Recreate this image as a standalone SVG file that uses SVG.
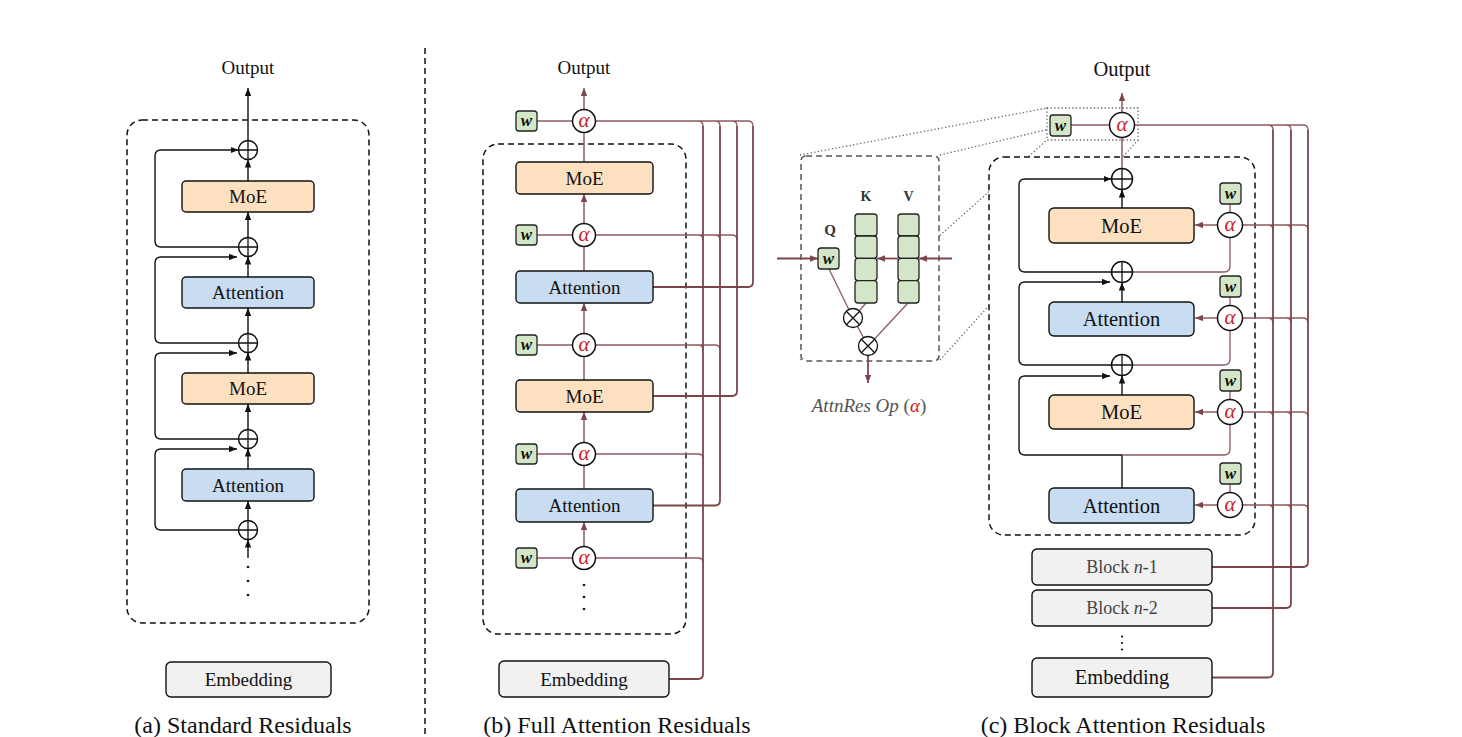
<svg xmlns="http://www.w3.org/2000/svg" width="1462" height="737" viewBox="0 0 1462 737">
<style>
text{font-family:'Liberation Serif','Times New Roman',serif;fill:#111}
.lbl{font-size:19px;text-anchor:middle}
.lblc{font-size:20.5px;text-anchor:middle}
.cap{font-size:24px;text-anchor:middle}
.box{stroke:#111;stroke-width:1.4}
.moe{fill:#fde0c0}
.attn{fill:#c8dcf2}
.emb{fill:#f1f1f1}
.wb{fill:#d4e6c8;stroke:#222;stroke-width:1.3}
.circ{fill:#fff;stroke:#111;stroke-width:1.5}
.pl{stroke:#111;stroke-width:1.3;fill:none}
.blk{stroke:#111;stroke-width:1.4;fill:none}
.mar{stroke:#7a464c;stroke-width:1.8;fill:none}
.marl{stroke:#8e5a60;stroke-width:1.3;fill:none}
.marv{stroke:#84505a;stroke-width:1.4;fill:none}
.dash{stroke:#111;stroke-width:1.5;stroke-dasharray:6 4;fill:none}
.dot{stroke:#666;stroke-width:1.3;stroke-dasharray:1.3 2.3;fill:none}
.al{font-size:21px;font-style:italic;fill:#cc2020;text-anchor:middle}
.w{font-size:17px;font-style:italic;font-weight:bold;text-anchor:middle}
.qkv{font-size:14px;font-weight:bold;text-anchor:middle;fill:#333}
</style>
<defs>
<marker id="ab" viewBox="0 0 10 8" refX="10" refY="4" markerWidth="8" markerHeight="6.4" markerUnits="userSpaceOnUse" orient="auto"><path d="M0,0 L10,4 L0,8 z" fill="#111"/></marker>
<marker id="am" viewBox="0 0 10 8" refX="10" refY="4" markerWidth="8" markerHeight="6.4" markerUnits="userSpaceOnUse" orient="auto"><path d="M0,0 L10,4 L0,8 z" fill="#7a464c"/></marker>
</defs>

<!-- separator -->
<line x1="425" y1="48" x2="425" y2="737" class="dash"/>

<!-- zoom dotted lines -->
<g id="zoom-lines">
<line x1="800" y1="155" x2="1047" y2="108" class="dot"/>
<line x1="940" y1="155" x2="1138" y2="108" class="dot"/>
<line x1="800" y1="360" x2="1047" y2="140" class="dot"/>
<line x1="940" y1="360" x2="1138" y2="140" class="dot"/>
</g>

<!-- containers -->
<g id="containers">
<rect x="127" y="120" width="242" height="503" rx="15" class="dash"/>
<rect x="483" y="144" width="203" height="490" rx="15" class="dash"/>
<rect x="989" y="157" width="266" height="378" rx="15" class="dash" style="fill:#fff"/>
<rect x="801" y="156" width="138" height="205" rx="5" class="dash" style="fill:#fff;stroke:#555"/>
<rect x="1047" y="108" width="91" height="32" class="dot" style="fill:#fff"/>
</g>

<g id="connectors">
<!-- (a) -->
<path d="M248,558 V539.5" class="blk" marker-end="url(#ab)"/>
<path d="M248,520.5 V501" class="blk" marker-end="url(#ab)"/>
<path d="M248,469 V448.5" class="blk" marker-end="url(#ab)"/>
<path d="M248,429.5 V404" class="blk" marker-end="url(#ab)"/>
<path d="M248,373 V352.5" class="blk" marker-end="url(#ab)"/>
<path d="M248,333.5 V308" class="blk" marker-end="url(#ab)"/>
<path d="M248,277 V256.5" class="blk" marker-end="url(#ab)"/>
<path d="M248,237.5 V212" class="blk" marker-end="url(#ab)"/>
<path d="M248,181 V159.5" class="blk" marker-end="url(#ab)"/>
<path d="M248,140.5 V88" class="blk" marker-end="url(#ab)"/>
<path d="M238.5,530 H161 Q155,530 155,524 V455 Q155,449 161,449 H237" class="blk" marker-end="url(#ab)"/>
<path d="M238.5,439 H161 Q155,439 155,433 V359 Q155,353 161,353 H237" class="blk" marker-end="url(#ab)"/>
<path d="M238.5,343 H161 Q155,343 155,337 V263 Q155,257 161,257 H237" class="blk" marker-end="url(#ab)"/>
<path d="M238.5,247 H161 Q155,247 155,241 V156 Q155,150 161,150 H238.5" class="blk" marker-end="url(#ab)"/>

<!-- (b) vertical chain -->
<path d="M584,546.5 V522" class="marv" marker-end="url(#am)"/>
<path d="M584,489 V465.5" class="marv"/>
<path d="M584,442.5 V412" class="marv" marker-end="url(#am)"/>
<path d="M584,380 V356.5" class="marv"/>
<path d="M584,333.5 V303" class="marv" marker-end="url(#am)"/>
<path d="M584,271 V246.5" class="marv"/>
<path d="M584,223.5 V194" class="marv" marker-end="url(#am)"/>
<path d="M584,162 V132.5" class="marv"/>
<path d="M584,109.5 V88" class="marv" marker-end="url(#am)"/>
<!-- (b) w to alpha -->
<path d="M537,121 H572.5 M537,235 H572.5 M537,345 H572.5 M537,454 H572.5 M537,558 H572.5" class="marl"/>
<!-- (b) alpha buses -->
<path d="M595.5,121 H698 Q703,121 703,126 M595.5,121 H715 Q720,121 720,126 M595.5,121 H732 Q737,121 737,126 M595.5,121 H748 Q753,121 753,126" class="marl"/>
<path d="M595.5,235 H698 Q703,235 703,240 M595.5,235 H715 Q720,235 720,240 M595.5,235 H732 Q737,235 737,240" class="marl"/>
<path d="M595.5,345 H698 Q703,345 703,350 M595.5,345 H715 Q720,345 720,350" class="marl"/>
<path d="M595.5,454 H698 Q703,454 703,459" class="marl"/>
<path d="M595.5,558 H698 Q703,558 703,563" class="marl"/>
<!-- (b) source lines -->
<path d="M703,126 V674 Q703,679 698,679 H669" class="mar"/>
<path d="M720,126 V500.5 Q720,505.5 715,505.5 H653" class="mar"/>
<path d="M737,126 V391 Q737,396 732,396 H653" class="mar"/>
<path d="M753,126 V282 Q753,287 748,287 H653" class="mar"/>

<!-- AttnRes op -->
<path d="M777,258.5 H818" class="mar" marker-end="url(#am)"/>
<path d="M952,258.5 H919" class="mar" marker-end="url(#am)"/>
<path d="M898,258.5 H877" class="mar" marker-end="url(#am)"/>
<path d="M829,269 L853,318 M866,303 L853,318 L868,346 M908,303 L868,346" class="marl"/>
<path d="M868,355.5 V383" class="mar" marker-end="url(#am)"/>

<!-- (c) black -->
<path d="M1122,208 V189.5" class="blk" marker-end="url(#ab)"/>
<path d="M1122,302 V282.5" class="blk" marker-end="url(#ab)"/>
<path d="M1122,395 V375.5" class="blk" marker-end="url(#ab)"/>
<path d="M1122,488 V455" class="blk"/>
<path d="M1111.5,272 H1025 Q1019,272 1019,266 V185 Q1019,179 1025,179 H1111.5" class="blk" marker-end="url(#ab)"/>
<path d="M1111.5,365 H1025 Q1019,365 1019,359 V288 Q1019,282 1025,282 H1110" class="blk" marker-end="url(#ab)"/>
<path d="M1122,455 H1025 Q1019,455 1019,449 V382 Q1019,376 1025,376 H1110" class="blk" marker-end="url(#ab)"/>
<!-- (c) maroon local -->
<path d="M1122,168.5 V137.5" class="marv"/>
<path d="M1122,112.5 V93" class="marv" marker-end="url(#am)"/>
<path d="M1132.5,272 H1224 Q1230,272 1230,266 V237.5" class="marl"/>
<path d="M1132.5,365 H1224 Q1230,365 1230,359 V330.5" class="marl"/>
<path d="M1122,455 H1224 Q1230,455 1230,449 V424.5" class="marl"/>
<path d="M1071,125 H1109.5 M1230,204 V212.5 M1230,297 V305.5 M1230,391 V399.5 M1230,484 V492.5" class="marl"/>
<path d="M1217.5,225 H1195" class="marv" marker-end="url(#am)"/>
<path d="M1217.5,318 H1195" class="marv" marker-end="url(#am)"/>
<path d="M1217.5,412 H1195" class="marv" marker-end="url(#am)"/>
<path d="M1217.5,505 H1195" class="marv" marker-end="url(#am)"/>
<!-- (c) buses -->
<path d="M1134.5,125 H1268 Q1273,125 1273,130 M1134.5,125 H1286 Q1291,125 1291,130 M1134.5,125 H1303 Q1308,125 1308,130" class="marl"/>
<path d="M1242.5,225 H1268 Q1273,225 1273,230 M1242.5,225 H1286 Q1291,225 1291,230 M1242.5,225 H1303 Q1308,225 1308,230" class="marl"/>
<path d="M1242.5,318 H1268 Q1273,318 1273,323 M1242.5,318 H1286 Q1291,318 1291,323 M1242.5,318 H1303 Q1308,318 1308,323" class="marl"/>
<path d="M1242.5,412 H1268 Q1273,412 1273,417 M1242.5,412 H1286 Q1291,412 1291,417 M1242.5,412 H1303 Q1308,412 1308,417" class="marl"/>
<path d="M1242.5,505 H1268 Q1273,505 1273,510 M1242.5,505 H1286 Q1291,505 1291,510 M1242.5,505 H1303 Q1308,505 1308,510" class="marl"/>
<path d="M1273,130 V672.5 Q1273,677.5 1268,677.5 H1212" class="mar"/>
<path d="M1291,130 V603 Q1291,608 1286,608 H1212" class="mar"/>
<path d="M1308,130 V562 Q1308,567 1303,567 H1212" class="mar"/>
</g>

<!-- ===== (a) nodes ===== -->
<g id="a-output"><text x="248" y="74" class="lbl">Output</text></g>
<g id="a-plus1"><circle cx="248" cy="150" r="9.5" class="circ"/><path d="M238.5,150 H257.5 M248,140.5 V159.5" class="pl"/></g>
<g id="a-moe2"><rect x="182" y="181" width="132" height="31" rx="4" class="box moe"/><text x="248" y="203" class="lbl">MoE</text></g>
<g id="a-plus2"><circle cx="248" cy="247" r="9.5" class="circ"/><path d="M238.5,247 H257.5 M248,237.5 V256.5" class="pl"/></g>
<g id="a-attn2"><rect x="182" y="277" width="132" height="31" rx="4" class="box attn"/><text x="248" y="299" class="lbl">Attention</text></g>
<g id="a-plus3"><circle cx="248" cy="343" r="9.5" class="circ"/><path d="M238.5,343 H257.5 M248,333.5 V352.5" class="pl"/></g>
<g id="a-moe1"><rect x="182" y="373" width="132" height="31" rx="4" class="box moe"/><text x="248" y="395" class="lbl">MoE</text></g>
<g id="a-plus4"><circle cx="248" cy="439" r="9.5" class="circ"/><path d="M238.5,439 H257.5 M248,429.5 V448.5" class="pl"/></g>
<g id="a-attn1"><rect x="182" y="469" width="132" height="32" rx="4" class="box attn"/><text x="248" y="491.5" class="lbl">Attention</text></g>
<g id="a-plus5"><circle cx="248" cy="530" r="9.5" class="circ"/><path d="M238.5,530 H257.5 M248,520.5 V539.5" class="pl"/></g>
<g id="a-dots"><circle cx="248" cy="567" r="1.3" fill="#111"/><circle cx="248" cy="581" r="1.3" fill="#111"/><circle cx="248" cy="595" r="1.3" fill="#111"/></g>
<g id="a-emb"><rect x="166" y="662" width="165" height="35" rx="5" class="box emb"/><text x="248.5" y="686" class="lbl">Embedding</text></g>
<g id="a-cap"><text x="243" y="733" class="cap">(a) Standard Residuals</text></g>

<!-- ===== (b) nodes ===== -->
<g id="b-output"><text x="584" y="74" class="lbl">Output</text></g>
<g id="b-w5"><rect x="516" y="111" width="21" height="20" rx="3" class="wb"/><text x="526.5" y="126" class="w">w</text></g>
<g id="b-a5"><circle cx="584" cy="121" r="11.5" class="circ"/><text x="584" y="127" class="al">α</text></g>
<g id="b-moe2"><rect x="516" y="162" width="137" height="32" rx="4" class="box moe"/><text x="584.5" y="184.5" class="lbl">MoE</text></g>
<g id="b-w4"><rect x="516" y="225" width="21" height="20" rx="3" class="wb"/><text x="526.5" y="240" class="w">w</text></g>
<g id="b-a4"><circle cx="584" cy="235" r="11.5" class="circ"/><text x="584" y="241" class="al">α</text></g>
<g id="b-attn2"><rect x="516" y="271" width="137" height="32" rx="4" class="box attn"/><text x="584.5" y="293.5" class="lbl">Attention</text></g>
<g id="b-w3"><rect x="516" y="335" width="21" height="20" rx="3" class="wb"/><text x="526.5" y="350" class="w">w</text></g>
<g id="b-a3"><circle cx="584" cy="345" r="11.5" class="circ"/><text x="584" y="351" class="al">α</text></g>
<g id="b-moe1"><rect x="516" y="380" width="137" height="32" rx="4" class="box moe"/><text x="584.5" y="402.5" class="lbl">MoE</text></g>
<g id="b-w2"><rect x="516" y="444" width="21" height="20" rx="3" class="wb"/><text x="526.5" y="459" class="w">w</text></g>
<g id="b-a2"><circle cx="584" cy="454" r="11.5" class="circ"/><text x="584" y="460" class="al">α</text></g>
<g id="b-attn1"><rect x="516" y="489" width="137" height="33" rx="4" class="box attn"/><text x="584.5" y="512" class="lbl">Attention</text></g>
<g id="b-w1"><rect x="516" y="548" width="21" height="20" rx="3" class="wb"/><text x="526.5" y="563" class="w">w</text></g>
<g id="b-a1"><circle cx="584" cy="558" r="11.5" class="circ"/><text x="584" y="564" class="al">α</text></g>
<g id="b-dots"><circle cx="584" cy="585" r="1.3" fill="#111"/><circle cx="584" cy="597" r="1.3" fill="#111"/><circle cx="584" cy="609" r="1.3" fill="#111"/></g>
<g id="b-emb"><rect x="499" y="661" width="170" height="36" rx="5" class="box emb"/><text x="584" y="685.5" class="lbl">Embedding</text></g>
<g id="b-cap"><text x="617" y="733" class="cap">(b) Full Attention Residuals</text></g>

<!-- ===== AttnRes Op ===== -->
<g id="op-q"><text x="830" y="235" class="qkv" style="font-size:15px">Q</text><rect x="818" y="248" width="21" height="21" rx="3" class="wb"/><text x="828.5" y="263.5" class="w">w</text></g>
<g id="op-k"><text x="866" y="201" class="qkv">K</text>
<rect x="855" y="214" width="22" height="22" rx="3" class="wb"/><rect x="855" y="236" width="22" height="22.3" rx="3" class="wb"/><rect x="855" y="258.3" width="22" height="22.3" rx="3" class="wb"/><rect x="855" y="280.6" width="22" height="22.4" rx="3" class="wb"/></g>
<g id="op-v"><text x="908.5" y="201" class="qkv">V</text>
<rect x="898" y="214" width="21" height="22" rx="3" class="wb"/><rect x="898" y="236" width="21" height="22.3" rx="3" class="wb"/><rect x="898" y="258.3" width="21" height="22.3" rx="3" class="wb"/><rect x="898" y="280.6" width="21" height="22.4" rx="3" class="wb"/></g>
<g id="op-x1"><circle cx="853" cy="318" r="9.5" class="circ" style="stroke-width:1.3"/><path d="M846.3,311.3 L859.7,324.7 M859.7,311.3 L846.3,324.7" class="pl"/></g>
<g id="op-x2"><circle cx="868" cy="346" r="9.5" class="circ" style="stroke-width:1.3"/><path d="M861.3,339.3 L874.7,352.7 M874.7,339.3 L861.3,352.7" class="pl"/></g>
<g id="op-label"><text x="869" y="412" style="font-size:19px;text-anchor:middle;fill:#555"><tspan font-style="italic" fill="#555">AttnRes Op</tspan> <tspan fill="#555">(</tspan><tspan font-style="italic" fill="#cc2020">α</tspan><tspan fill="#555">)</tspan></text></g>

<!-- ===== (c) nodes ===== -->
<g id="c-output"><text x="1122" y="76" class="lblc">Output</text></g>
<g id="c-wtop"><rect x="1050" y="115" width="21" height="21" rx="3" class="wb"/><text x="1060.5" y="130.5" class="w">w</text></g>
<g id="c-atop"><circle cx="1122" cy="125" r="12.5" class="circ"/><text x="1122" y="131" class="al">α</text></g>
<g id="c-plus1"><circle cx="1122" cy="179" r="10.5" class="circ"/><path d="M1111.5,179 H1132.5 M1122,168.5 V189.5" class="pl"/></g>
<g id="c-moe2"><rect x="1049" y="208" width="145" height="35" rx="5" class="box moe"/><text x="1121.5" y="232.5" class="lblc">MoE</text></g>
<g id="c-w4"><rect x="1220" y="183" width="21" height="21" rx="3" class="wb"/><text x="1230.5" y="198.5" class="w">w</text></g>
<g id="c-a4"><circle cx="1230" cy="225" r="12.5" class="circ"/><text x="1230" y="231" class="al">α</text></g>
<g id="c-plus2"><circle cx="1122" cy="272" r="10.5" class="circ"/><path d="M1111.5,272 H1132.5 M1122,261.5 V282.5" class="pl"/></g>
<g id="c-attn2"><rect x="1049" y="302" width="145" height="34" rx="5" class="box attn"/><text x="1121.5" y="326" class="lblc">Attention</text></g>
<g id="c-w3"><rect x="1220" y="276" width="21" height="21" rx="3" class="wb"/><text x="1230.5" y="291.5" class="w">w</text></g>
<g id="c-a3"><circle cx="1230" cy="318" r="12.5" class="circ"/><text x="1230" y="324" class="al">α</text></g>
<g id="c-plus3"><circle cx="1122" cy="365" r="10.5" class="circ"/><path d="M1111.5,365 H1132.5 M1122,354.5 V375.5" class="pl"/></g>
<g id="c-moe1"><rect x="1049" y="395" width="145" height="34" rx="5" class="box moe"/><text x="1121.5" y="419" class="lblc">MoE</text></g>
<g id="c-w2"><rect x="1220" y="370" width="21" height="21" rx="3" class="wb"/><text x="1230.5" y="385.5" class="w">w</text></g>
<g id="c-a2"><circle cx="1230" cy="412" r="12.5" class="circ"/><text x="1230" y="418" class="al">α</text></g>
<g id="c-attn1"><rect x="1049" y="488" width="145" height="35" rx="5" class="box attn"/><text x="1121.5" y="512.5" class="lblc">Attention</text></g>
<g id="c-w1"><rect x="1220" y="463" width="21" height="21" rx="3" class="wb"/><text x="1230.5" y="478.5" class="w">w</text></g>
<g id="c-a1"><circle cx="1230" cy="505" r="12.5" class="circ"/><text x="1230" y="511" class="al">α</text></g>
<g id="c-bn1"><rect x="1032" y="549" width="180" height="36" rx="5" class="box emb"/><text x="1122" y="573" style="font-size:18px;text-anchor:middle;fill:#444">Block <tspan font-style="italic" fill="#444">n</tspan>-1</text></g>
<g id="c-bn2"><rect x="1032" y="590" width="180" height="36" rx="5" class="box emb"/><text x="1122" y="614" style="font-size:18px;text-anchor:middle;fill:#444">Block <tspan font-style="italic" fill="#444">n</tspan>-2</text></g>
<g id="c-dots"><circle cx="1122" cy="636.5" r="1.1" fill="#111"/><circle cx="1122" cy="643" r="1.1" fill="#111"/><circle cx="1122" cy="649.5" r="1.1" fill="#111"/></g>
<g id="c-emb"><rect x="1032" y="658" width="180" height="39" rx="5" class="box emb"/><text x="1122" y="684" class="lblc">Embedding</text></g>
<g id="c-cap"><text x="1123" y="733" class="cap">(c) Block Attention Residuals</text></g>
</svg>
